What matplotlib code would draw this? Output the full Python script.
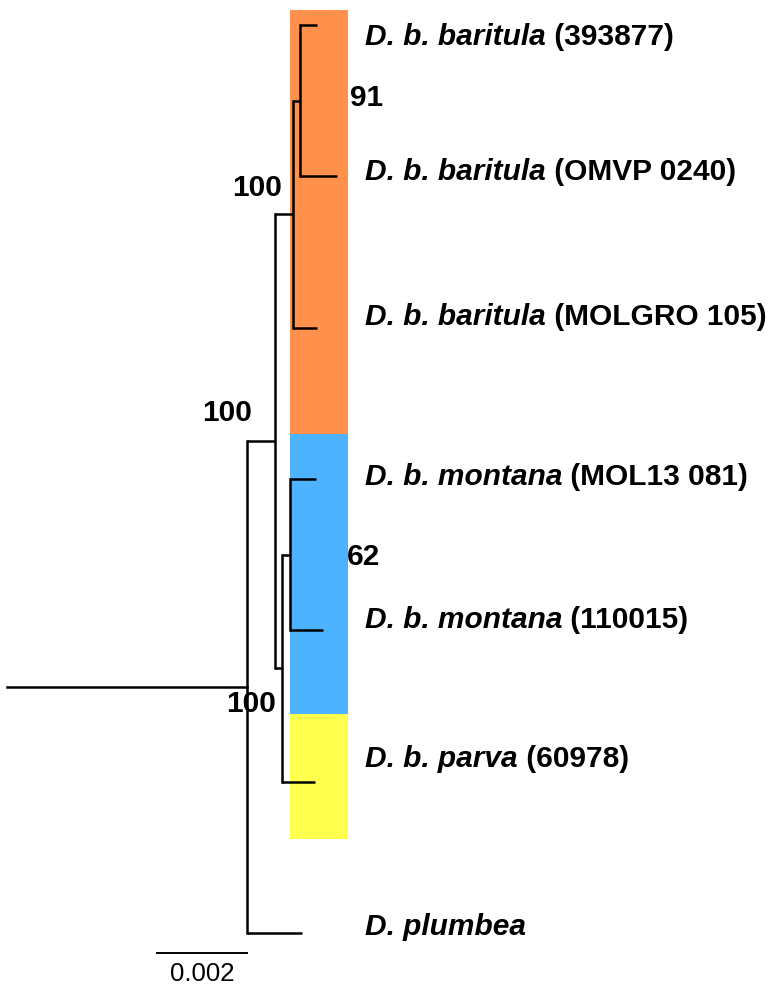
import numpy as np
import matplotlib
matplotlib.use("Agg")
import matplotlib.pyplot as plt

plt.rcParams["font.family"] = ["Liberation Sans", "DejaVu Sans"]

# tips, top to bottom
tip_italic = ["D. b. baritula", "D. b. baritula", "D. b. baritula",
              "D. b. montana", "D. b. montana", "D. b. parva", "D. plumbea"]
tip_code = ["(393877)", "(OMVP 0240)", "(MOLGRO 105)",
            "(MOL13 081)", "(110015)", "(60978)", ""]
tip_depth = [0.00156, 0.00200, 0.00156, 0.00153, 0.00169, 0.00151, 0.00122]

# internal nodes (distance from root)
node_names = ["A", "B", "C", "D", "E", "root"]
node_children = [["t0", "t1"], ["A", "t2"], ["t3", "t4"], ["C", "t5"], ["B", "D"], ["E", "t6"]]
node_depth = [0.00118, 0.00102, 0.00096, 0.00078, 0.00062, 0.0]
node_support = [91, 100, 62, 100, 100, None]
root_stem = 0.00533

# coloured clade boxes (in tip units)
clade_start = [-0.10, 2.70, 4.55]
clade_end = [2.70, 4.55, 5.38]
clade_colors = ["#FF914D", "#4DB3FF", "#FFFF4D"]

scale_len = 0.002

fig = plt.figure(figsize=(7.76, 9.9), dpi=100)
ax = fig.add_axes([0, 0, 1, 1])
ax.set_xlim(-0.005489, 0.011756)
ax.set_ylim(6.3767, -0.1652)
ax.axis("off")

# clade boxes
for s, e, c in zip(clade_start, clade_end, clade_colors):
    ax.fill_between([0.000956, 0.002244], s, e, color=c, lw=0, zorder=0)

pos = {}
for i, d in enumerate(tip_depth):
    pos["t%d" % i] = (d, float(i))
for name, ch, d in zip(node_names, node_children, node_depth):
    ys = [pos[c][1] for c in ch]
    pos[name] = (d, (min(ys) + max(ys)) / 2)

lw = 1.8
for name, ch, d in zip(node_names, node_children, node_depth):
    ys = [pos[c][1] for c in ch]
    ax.plot([d, d], [min(ys), max(ys)], color="black", lw=lw, solid_capstyle="projecting", zorder=2)
    for c in ch:
        ax.plot([d, pos[c][0]], [pos[c][1], pos[c][1]], color="black", lw=lw,
                solid_capstyle="butt", zorder=2)
rx, ry = pos["root"]
ax.plot([rx - root_stem, rx], [ry, ry], color="black", lw=lw, zorder=2)

# support values, offsets in pixels from node
sup_off = {"A": (50, -3, "left"), "B": (-11, -26, "right"), "C": (57, 2, "left"),
           "D": (-6, 36, "right"), "E": (-23, -28, "right")}
for name, s in zip(node_names, node_support):
    if s is None:
        continue
    dx, dy, ha = sup_off[name]
    ax.annotate(str(s), xy=pos[name], xytext=(dx * 0.72, -dy * 0.72),
                textcoords="offset points", ha=ha, va="center",
                fontsize=21.5, fontweight="bold", zorder=3)

# tip labels
label_shift = [0.08, -0.03, -0.07, -0.01, -0.07, -0.15, -0.04]
for i in range(len(tip_italic)):
    t = ax.text(0.00262, i + label_shift[i], tip_italic[i], fontsize=21.5,
                fontweight="bold", fontstyle="italic", va="center", ha="left")
    if tip_code[i]:
        ax.annotate(" " + tip_code[i], xy=(1, 0), xycoords=t, va="bottom", ha="left",
                    fontsize=21.5, fontweight="bold")

# scale bar
ax.plot([-scale_len, 0], [6.13, 6.13], color="black", lw=1.4)
ax.text(-scale_len / 2, 6.27, "0.002", ha="center", va="center", fontsize=18.5)

fig.savefig("out.png", dpi=100)
